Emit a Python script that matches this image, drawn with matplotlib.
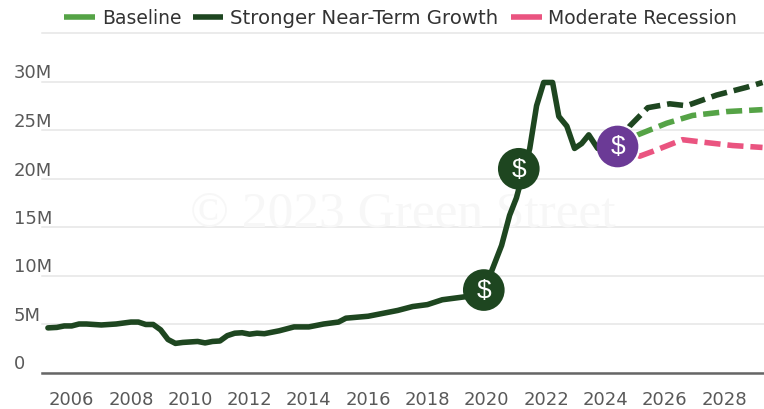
import matplotlib
matplotlib.use('Agg')
import matplotlib.pyplot as plt
from matplotlib.lines import Line2D

# history, millions
hist_x = [2005.2, 2005.5, 2005.75, 2006, 2006.25, 2006.5, 2007, 2007.5, 2008, 2008.25, 2008.5, 2008.75, 2009,
          2009.25, 2009.5, 2009.75, 2010, 2010.25, 2010.5, 2010.75, 2011, 2011.25, 2011.5, 2011.75, 2012,
          2012.25, 2012.5, 2013, 2013.5, 2014, 2014.5, 2015, 2015.25, 2016, 2016.5, 2017, 2017.5, 2018,
          2018.5, 2019, 2019.5, 2019.9, 2020.17, 2020.5, 2020.77, 2021.0, 2021.45, 2021.68, 2021.92, 2022.22,
          2022.43, 2022.7, 2022.96, 2023.2, 2023.44, 2023.74, 2024.41]
hist_y = [4.6, 4.65, 4.8, 4.8, 5.0, 5.0, 4.9, 5.0, 5.2, 5.2, 4.95, 4.95, 4.4,
          3.4, 3.0, 3.1, 3.15, 3.2, 3.05, 3.2, 3.25, 3.8, 4.05, 4.1, 3.95,
          4.05, 4.0, 4.3, 4.7, 4.7, 5.0, 5.2, 5.6, 5.8, 6.1, 6.4, 6.8, 7.0,
          7.5, 7.7, 7.9, 8.5, 10.5, 13.1, 16.2, 18.0, 23.1, 27.5, 29.9, 29.9,
          26.4, 25.4, 23.1, 23.6, 24.5, 23.1, 23.3]

# scenarios
strong_x = [2024.41, 2024.82, 2025.43, 2026.17, 2026.74, 2027.75, 2028.76, 2029.3]
strong_y = [23.3, 25.4, 27.3, 27.7, 27.5, 28.6, 29.4, 29.9]
base_x = [2024.41, 2025.09, 2026.07, 2026.94, 2028.09, 2029.3]
base_y = [23.3, 24.5, 25.7, 26.5, 26.9, 27.1]
rec_x = [2024.41, 2025.16, 2025.6, 2026.6, 2027.42, 2028.29, 2029.3]
rec_y = [23.3, 22.3, 22.8, 24.0, 23.7, 23.4, 23.2]

# dollar markers
dollar_x = [2019.9, 2021.08, 2024.41]
dollar_y = [8.5, 21.0, 23.3]

year_ticks = list(range(2006, 2030, 2))
y_ticks = [0, 5, 10, 15, 20, 25, 30, 35]
y_labels = ['0', '5M', '10M', '15M', '20M', '25M', '30M', '']
legend_names = ['Baseline', 'Stronger Near-Term Growth', 'Moderate Recession']

dark = '#1e4620'
green = '#55a346'
pink = '#ea5480'
purple = '#6b3a96'

fig = plt.figure(figsize=(7.64, 4.10), dpi=100)
ax = fig.add_axes([42 / 764, 36.5 / 410, 722 / 764, 339.5 / 410])
ax.set_xlim(2005, 2029.35)
ax.set_ylim(0, 35)

for s in ['top', 'left', 'right']:
    ax.spines[s].set_visible(False)
ax.spines['bottom'].set_color('#666666')
ax.spines['bottom'].set_linewidth(1.8)

ax.grid(axis='y', color='#e6e6e6', linewidth=1.1, clip_on=False)
ax.set_axisbelow(True)

ax.set_xticks(year_ticks)
ax.set_yticks(y_ticks)
ax.set_yticklabels(y_labels, ha='left', va='bottom')
ax.tick_params(axis='x', length=0, pad=12.5, labelsize=13, labelcolor='#595959')
ax.tick_params(axis='y', length=0, pad=20.5, labelsize=13, labelcolor='#595959')

ax.text(0.5, 0.47, '© 2023 Green Street', transform=ax.transAxes, ha='center', va='center',
        family='Liberation Serif', fontsize=37, color='#f7f7f7', zorder=1)

dash = (2.9, 1.25)
ax.plot(rec_x, rec_y, color=pink, lw=4, dashes=dash, zorder=3)
ax.plot(base_x, base_y, color=green, lw=4, dashes=dash, zorder=3)
ax.plot(strong_x, strong_y, color=dark, lw=4, dashes=dash, zorder=3)
ax.plot(hist_x, hist_y, color=dark, lw=4, zorder=4, solid_joinstyle='round', solid_capstyle='round')

dollar_colors = [dark, dark, purple]
ax.scatter(dollar_x, dollar_y, s=900, c=dollar_colors, linewidths=0, zorder=5)
for x, y in zip(dollar_x, dollar_y):
    ax.text(x, y, '$', color='white', fontsize=19, ha='center', va='center', zorder=6,
            family='Liberation Sans')

# legend drawn by hand, the entries have uneven gaps
legend_colors = [green, dark, pink]
handle_px = [(64, 95), (193, 223), (511, 542)]
text_px = [102, 230, 548]
text_sizes = [13.5, 14.2, 13.5]
for name, c, hp, tp, fs in zip(legend_names, legend_colors, handle_px, text_px, text_sizes):
    fig.add_artist(Line2D([hp[0] / 764, hp[1] / 764], [1 - 18 / 410, 1 - 18 / 410], color=c, lw=4,
                          solid_capstyle='butt', transform=fig.transFigure))
    fig.text(tp / 764, 1 - 18 / 410, name, fontsize=fs, color='#333333', ha='left', va='center')

fig.savefig('out.png', dpi=100)
